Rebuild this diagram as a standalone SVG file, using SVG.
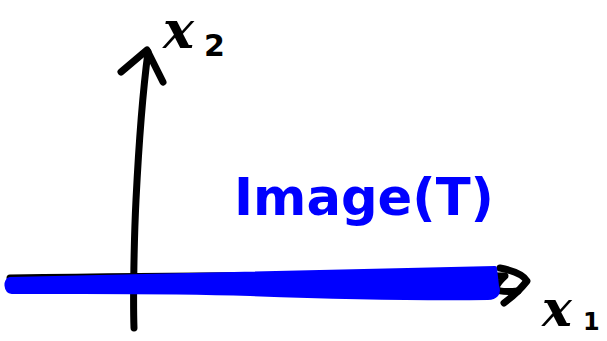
<svg xmlns="http://www.w3.org/2000/svg" width="607" height="341" viewBox="0 0 607 341">
<style>
.ink{fill:none;stroke:#000;stroke-width:7;stroke-linecap:round;stroke-linejoin:round}
.lbl{font-family:"DejaVu Serif","Liberation Serif",serif;font-style:italic;font-weight:bold;fill:#000}
.sub{font-family:"DejaVu Sans","Liberation Sans",sans-serif;font-weight:bold;fill:#000}
.blue{font-family:"DejaVu Sans","Liberation Sans",sans-serif;fill:#0000ff}
</style>
<rect width="607" height="341" fill="#fff"/>
<g id="connectors">
<path class="ink" d="M134 328 C133 300 134 240 136 200 C139 140 143 90 148 52"/>
<path class="ink" d="M121 72 L147 50 L163 82"/>
<path class="ink" d="M10 278 C150 276 350 274 505 276 C490 290 495 293 518 291"/>
<path class="ink" d="M500 268 C515 271 524 276 527 281 C520 290 512 297 504 303"/>
<path d="M10 279 C120 276 300 271 495 268 L497 286 C500 294 495 298 488 298 C400 299 330 297 250 294 C160 291 80 292 12 292 C5 291 5 280 10 279 Z" fill="#0000ff" stroke="#0000ff" stroke-width="4" stroke-linejoin="round"/>
</g>
<g id="x2-label">
<text class="lbl" x="163" y="48" font-size="52">x</text>
<text class="sub" x="204" y="56" font-size="30">2</text>
</g>
<g id="x1-label">
<text class="lbl" x="542" y="326" font-size="50">x</text>
<text class="sub" x="583" y="330" font-size="24" font-weight="normal">1</text>
</g>
<g id="image-label">
<text class="blue" x="234" y="215" font-size="52" textLength="260" lengthAdjust="spacingAndGlyphs" font-weight="bold">Image(T)</text>
</g>
</svg>
